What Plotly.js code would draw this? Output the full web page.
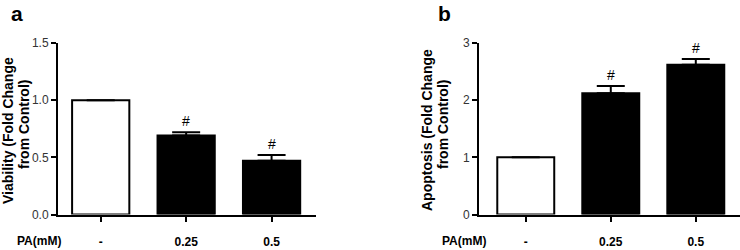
<!DOCTYPE html>
<html>
<head>
<meta charset="utf-8">
<script src="https://cdn.plot.ly/plotly-3.0.1.min.js"></script>
<style>body{margin:0;padding:0;background:#fff}#chart{width:740px;height:250px}</style>
</head>
<body>
<div id="chart"></div>
<script>
// Data
const categories = ['-', '0.25', '0.5'];
const viability = [1.0, 0.69, 0.47];
const viabilityErr = [null, 0.03, 0.05];
const apoptosis = [1.0, 2.12, 2.62];
const apoptosisErr = [null, 0.13, 0.10];
const significance = ['', '#', '#'];
const xPos = [0, 1, 2];

const FONT = 'Liberation Sans, Arial, sans-serif';
const barColors = ['#ffffff', '#000000', '#000000'];

function barTrace(vals, errs, xa, ya) {
  return {
    type: 'bar', x: xPos, y: vals, xaxis: xa, yaxis: ya, width: 0.67,
    marker: {color: barColors, line: {color: '#000', width: 2}},
    error_y: {type: 'data', symmetric: false, array: errs, arrayminus: errs.map(() => 0),
              color: '#000', thickness: 2, width: 14},
    hoverinfo: 'none', showlegend: false
  };
}

const data = [
  barTrace(viability, viabilityErr, 'x', 'y'),
  barTrace(apoptosis, apoptosisErr, 'x2', 'y2')
];

const xCommon = {
  tickvals: xPos, ticktext: categories, showline: true, linecolor: '#000', linewidth: 2,
  ticks: 'outside', ticklen: 5, tickwidth: 2, tickcolor: '#000',
  ticklabelstandoff: 10, tickfont: {family: FONT, size: 12, color: '#000', weight: 'bold'},
  showgrid: false, zeroline: false, fixedrange: true
};
const yCommon = {
  showline: true, linecolor: '#000', linewidth: 2, ticks: 'outside', ticklen: 5, tickwidth: 2,
  tickcolor: '#000', tickfont: {family: FONT, size: 12, color: '#333'},
  showgrid: false, zeroline: false, fixedrange: true, domain: [0.142, 0.828]
};

const annotations = [];
function ann(text, xpx, ypx, size, bold, extra) {
  annotations.push(Object.assign({
    text: text, xref: 'paper', yref: 'paper', x: xpx / 740, y: 1 - ypx / 250,
    xanchor: 'center', yanchor: 'middle', showarrow: false,
    font: {family: FONT, size: size, color: '#000', weight: bold ? 'bold' : 'normal'}
  }, extra || {}));
}
ann('a', 17, 13, 21, true);
ann('b', 444, 13, 21, true);
ann('PA(mM)', 39, 241, 12, true);
ann('PA(mM)', 464, 241, 12, true);
ann('Viability (Fold Change', 8, 131, 14, true, {textangle: -90});
ann('from Control)', 24, 125, 14, true, {textangle: -90});
ann('Apoptosis (Fold Change', 427, 130, 14, true, {textangle: -90});
ann('from Control)', 443, 125, 14, true, {textangle: -90});

[[viability, viabilityErr, 'x', 'y'], [apoptosis, apoptosisErr, 'x2', 'y2']].forEach(([v, e, xa, ya]) => {
  xPos.forEach((i) => {
    if (significance[i]) {
      annotations.push({
        text: significance[i], xref: xa, yref: ya, x: xPos[i], y: v[i] + (e[i] || 0),
        xanchor: 'center', yanchor: 'bottom', yshift: 1, showarrow: false,
        font: {family: FONT, size: 14, color: '#000'}
      });
    }
  });
});

const layout = {
  width: 740, height: 250, margin: {l: 0, r: 0, t: 0, b: 0},
  paper_bgcolor: '#fff', plot_bgcolor: '#fff', bargap: 0,
  xaxis: Object.assign({}, xCommon, {domain: [58 / 740, 316 / 740], range: [-0.5, 2.52], anchor: 'y'}),
  yaxis: Object.assign({}, yCommon, {range: [0, 1.5], dtick: 0.5, tickformat: '.1f', anchor: 'x'}),
  xaxis2: Object.assign({}, xCommon, {domain: [479 / 740, 1], range: [-0.55, 2.52], anchor: 'y2'}),
  yaxis2: Object.assign({}, yCommon, {range: [0, 3], dtick: 1, anchor: 'x2'}),
  annotations: annotations
};

Plotly.newPlot('chart', data, layout, {displayModeBar: false, staticPlot: true});
</script>
</body>
</html>
